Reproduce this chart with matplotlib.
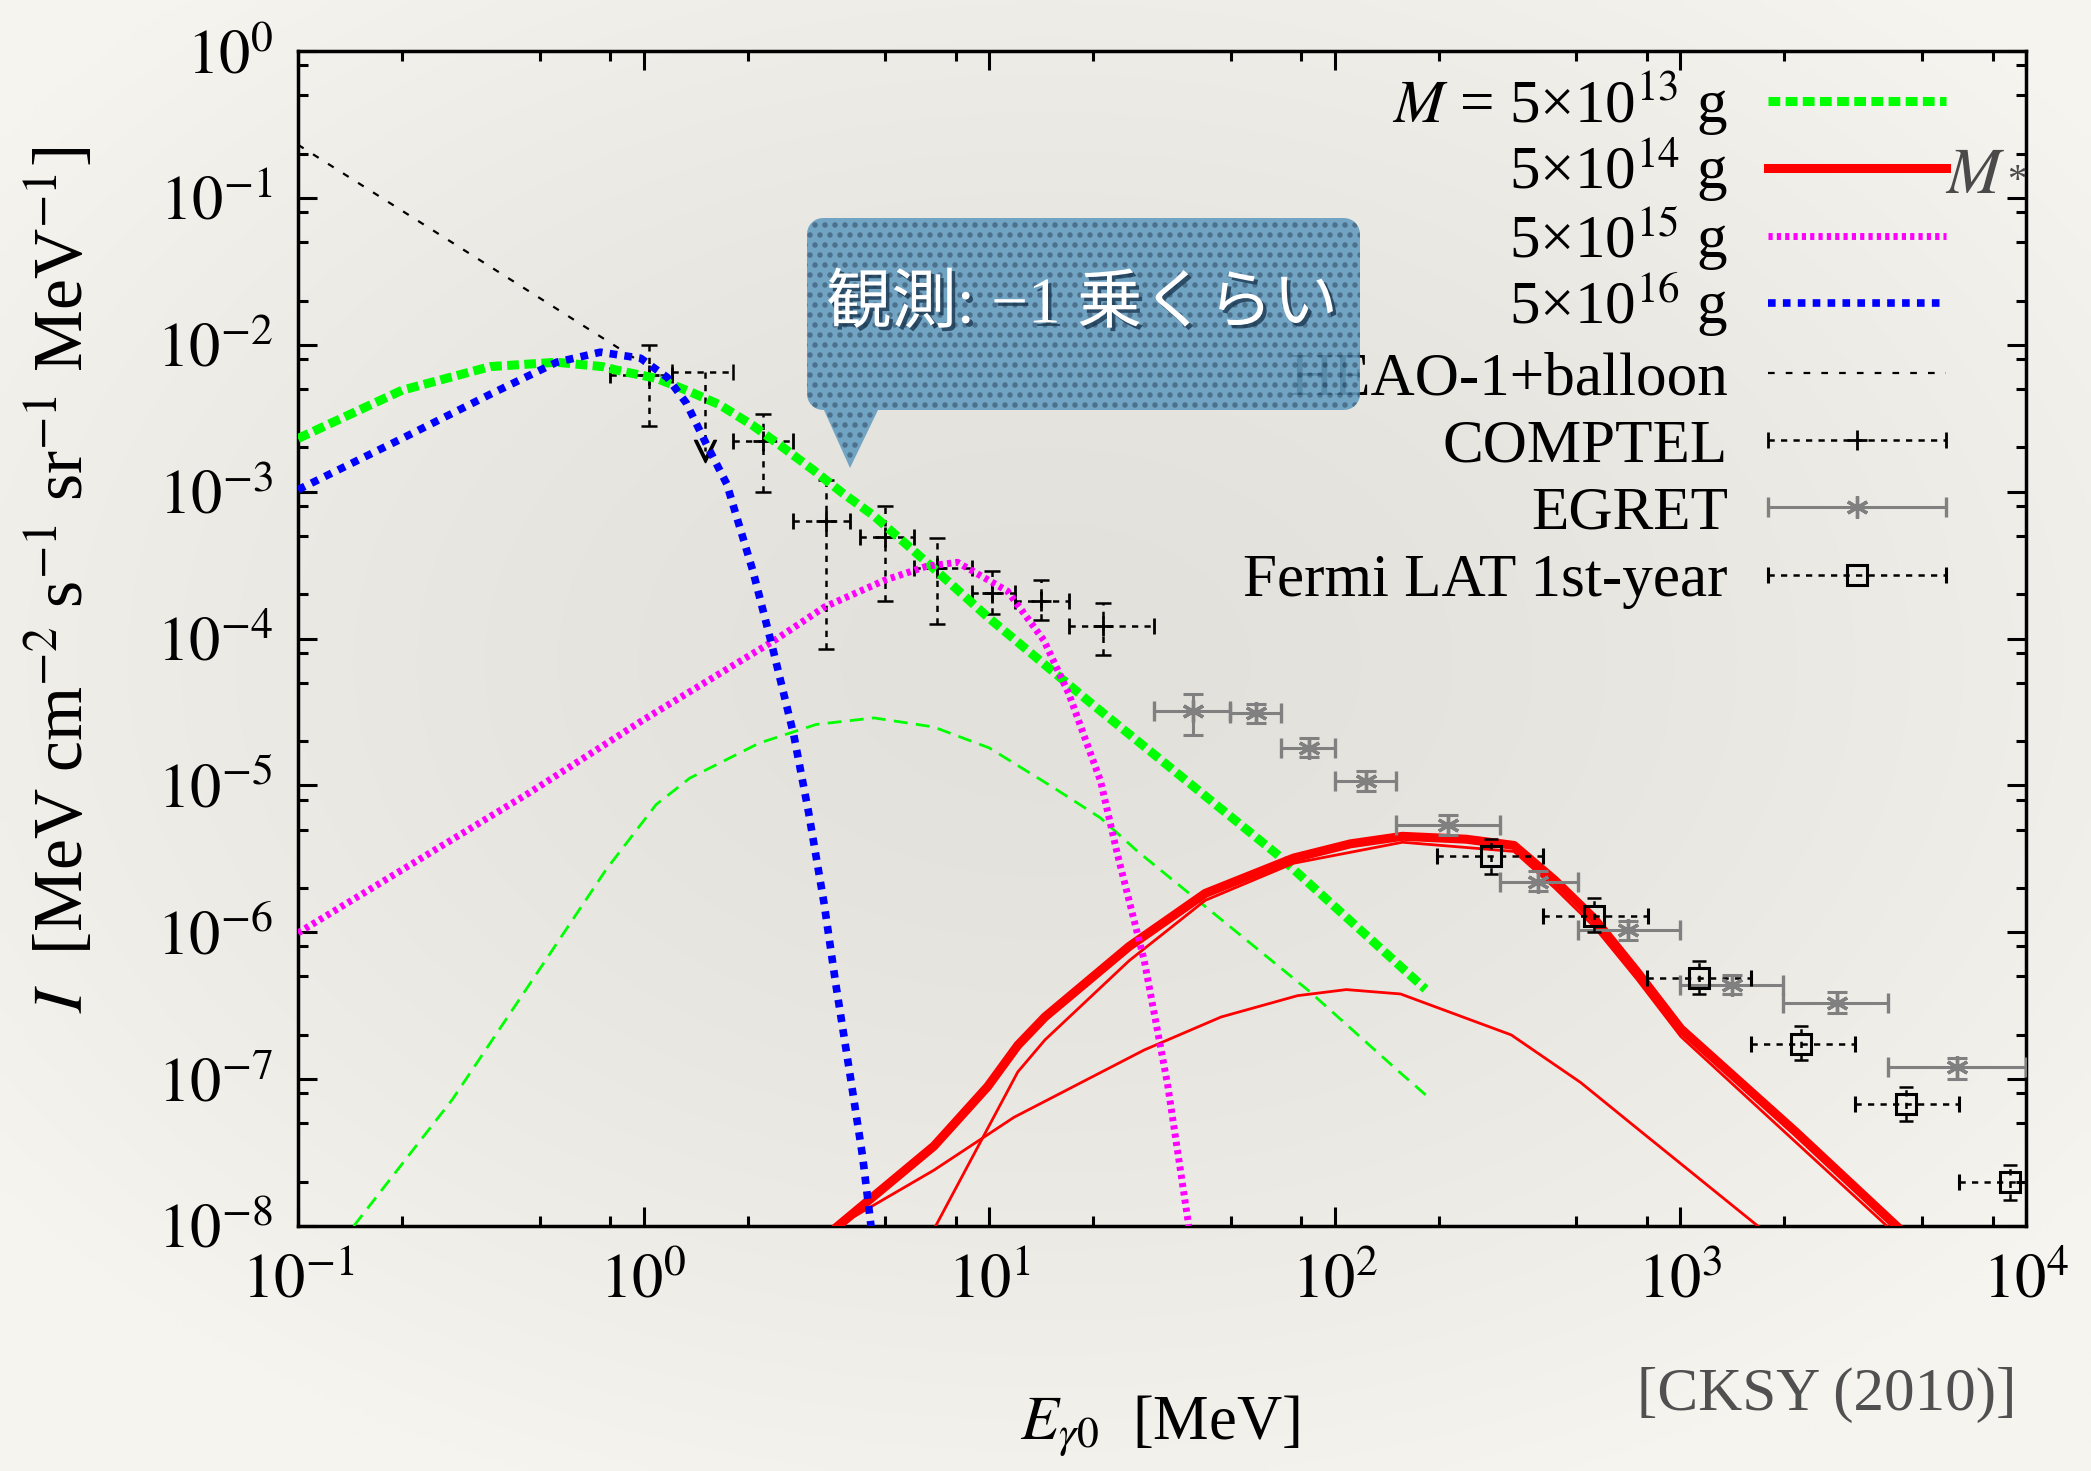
import numpy as np
import matplotlib

matplotlib.use("Agg")
import matplotlib.pyplot as plt
import matplotlib.patheffects as pe
from matplotlib.legend import Legend
from matplotlib.legend_handler import HandlerErrorbar
from matplotlib.patches import PathPatch
from matplotlib.path import Path
from matplotlib.ticker import FuncFormatter, LogLocator, NullFormatter

plt.rcParams["font.family"] = ["Liberation Serif", "Noto Sans CJK JP", "DejaVu Sans"]
plt.rcParams["mathtext.fontset"] = "stix"

# --- model spectra (E in MeV, I in MeV cm^-2 s^-1 sr^-1 MeV^-1) ---
m13_e = [0.1, 0.2, 0.36, 0.56, 0.76, 0.84, 1.09, 1.36, 1.66, 2.08, 2.48, 3.1, 3.78, 4.62, 6.8, 9.9, 19.5, 68, 183]
m13_i = [2.3e-3, 4.9e-3, 7.1e-3, 7.6e-3, 7.1e-3, 6.7e-3, 5.9e-3, 4.8e-3, 3.9e-3, 2.8e-3, 2.07e-3,
         1.4e-3, 9.7e-4, 6.9e-4, 3.1e-4, 1.4e-4, 3.7e-5, 3.4e-6, 4.1e-7]
m13s_e = [0.145, 0.28, 0.467, 0.778, 1.087, 1.36, 2.16, 3.16, 4.64, 6.9, 10, 15.3, 21, 26.7, 84, 155, 184.5]
m13s_i = [1e-8, 7.3e-8, 4.4e-7, 2.66e-6, 7.4e-6, 1.12e-5, 1.94e-5, 2.6e-5, 2.88e-5, 2.5e-5, 1.8e-5,
          9.7e-6, 6e-6, 3.6e-6, 4.0e-7, 1.1e-7, 7.7e-8]

m14_e = [3.65, 6.92, 9.9, 12.1, 14.5, 25.4, 42.2, 76, 111, 157, 240, 330, 433, 561, 748, 1003, 2150, 4220]
m14_i = [1e-8, 3.5e-8, 8.9e-8, 1.7e-7, 2.65e-7, 8e-7, 1.84e-6, 3.2e-6, 4.0e-6, 4.5e-6, 4.3e-6, 3.9e-6,
         2.26e-6, 1.25e-6, 5.4e-7, 2.2e-7, 4.4e-8, 1e-8]
m14b_e = [7.0, 12.1, 14.5, 25.4, 42.2, 76, 157, 330, 433, 561, 748, 1003, 3960]
m14b_i = [1e-8, 1.12e-7, 1.85e-7, 6.4e-7, 1.65e-6, 2.95e-6, 4.1e-6, 3.55e-6, 2.0e-6, 1.1e-6, 4.8e-7, 1.95e-7, 1e-8]
m14c_e = [3.65, 6.92, 11.8, 28.1, 46.9, 78, 108, 155, 324, 514, 751, 1675]
m14c_i = [1e-8, 2.4e-8, 5.5e-8, 1.58e-7, 2.65e-7, 3.7e-7, 4.07e-7, 3.8e-7, 2.0e-7, 9.5e-8, 4.6e-8, 1e-8]

m15_e = [0.1, 0.467, 1.0, 2.39, 3.34, 5.0, 6.58, 8.1, 11.3, 14.4, 17, 21, 23.5, 28.1, 32.8, 37.8]
m15_i = [9.9e-7, 8.9e-6, 2.8e-5, 9.7e-5, 1.64e-4, 2.5e-4, 3.1e-4, 3.3e-4, 2.1e-4, 9.7e-5, 4.2e-5,
         1.07e-5, 3.4e-6, 6.4e-7, 9.3e-8, 1e-8]

m16_e = [0.1, 0.2, 0.36, 0.56, 0.75, 0.98, 1.17, 1.33, 1.52, 1.74, 1.86, 2.07, 2.36, 2.72, 3.0, 3.33,
         3.6, 3.98, 4.3, 4.55]
m16_i = [1.03e-3, 2.3e-3, 4.6e-3, 7.6e-3, 8.9e-3, 8.1e-3, 6.0e-3, 4.0e-3, 2.1e-3, 1.13e-3, 6.7e-4,
         2.9e-4, 8.7e-5, 2.2e-5, 6.6e-6, 1.56e-6, 4.4e-7, 9.8e-8, 3e-8, 1e-8]

# --- observations ---
heao_e = [0.1, 1.0]
heao_i = [0.23, 7.4e-3]

comptel_e = [1.04, 2.21, 3.38, 5.0, 7.06, 10.2, 14.1, 21.3]
comptel_i = [6.2e-3, 2.2e-3, 6.3e-4, 4.9e-4, 3.0e-4, 2.05e-4, 1.8e-4, 1.22e-4]
comptel_elo = [0.80, 1.81, 2.71, 4.23, 6.05, 8.93, 11.9, 17.0]
comptel_ehi = [1.205, 2.71, 3.95, 6.05, 8.93, 11.9, 17.0, 29.9]
comptel_ilo = [2.8e-3, 1.0e-3, 8.5e-5, 1.8e-4, 1.26e-4, 1.47e-4, 1.33e-4, 7.7e-5]
comptel_ihi = [9.9e-3, 3.4e-3, 1.2e-3, 8.0e-4, 4.8e-4, 2.9e-4, 2.5e-4, 1.74e-4]

# COMPTEL upper limit
ul_e = [1.51]
ul_i = [6.5e-3]
ul_elo = [1.205]
ul_ehi = [1.815]
ul_tip = [1.9e-3]

egret_e = [39, 59, 84, 123, 213, 386, 706, 1410, 2830, 6300]
egret_i = [3.2e-5, 3.1e-5, 1.8e-5, 1.07e-5, 5.4e-6, 2.2e-6, 1.03e-6, 4.4e-7, 3.3e-7, 1.2e-7]
egret_elo = [30, 49.6, 70, 100, 150, 300, 505, 1000, 1980, 3980]
egret_ehi = [49.6, 70, 100, 150, 300, 505, 1000, 1980, 3980, 10000]
egret_ilo = [2.2e-5, 2.65e-5, 1.55e-5, 9.1e-6, 4.6e-6, 1.9e-6, 8.8e-7, 3.8e-7, 2.8e-7, 1.0e-7]
egret_ihi = [4.2e-5, 3.6e-5, 2.1e-5, 1.25e-5, 6.3e-6, 2.6e-6, 1.2e-6, 5.1e-7, 3.9e-7, 1.4e-7]

fermi_e = [283, 562, 1130, 2240, 4490, 9000]
fermi_i = [3.3e-6, 1.3e-6, 4.9e-7, 1.74e-7, 6.8e-8, 2.0e-8]
fermi_elo = [197, 400, 800, 1600, 3200, 6400]
fermi_ehi = [401, 807, 1600, 3200, 6400, 12800]
fermi_ilo = [2.5e-6, 1.0e-6, 3.8e-7, 1.35e-7, 5.2e-8, 1.5e-8]
fermi_ihi = [4.3e-6, 1.7e-6, 6.4e-7, 2.3e-7, 8.9e-8, 2.6e-8]

labels = [r"$M$ = 5×10$^{13}$ g", r"5×10$^{14}$ g", r"5×10$^{15}$ g", r"5×10$^{16}$ g",
          "HEAO-1+balloon", "COMPTEL", "EGRET", "Fermi LAT 1st-year"]


def xerr(e, lo, hi):
    e = np.asarray(e)
    return [e - np.asarray(lo), np.asarray(hi) - e]


def yerr(i, lo, hi):
    i = np.asarray(i)
    return [i - np.asarray(lo), np.asarray(hi) - i]


W, H = 2091, 1471
fig = plt.figure(figsize=(W / 100, H / 100), dpi=100)

# soft vignette backdrop
bg = fig.add_axes([0, 0, 1, 1], zorder=0)
yy, xx = np.mgrid[0:1:200j, 0:1:280j]
r = np.clip(np.hypot((xx - 0.5) / 0.62, (yy - 0.45) / 0.6), 0, 1) ** 1.6
centre = np.array([227, 225, 219]) / 255
edge = np.array([246, 244, 239]) / 255
bg.imshow(centre + (edge - centre) * r[..., None], extent=(0, 1, 0, 1), aspect="auto",
          interpolation="bilinear")
bg.axis("off")

ax_left, ax_top, ax_right, ax_bottom = 298, 51, 2026, 1226
ax = fig.add_axes([ax_left / W, 1 - ax_bottom / H, (ax_right - ax_left) / W,
                   (ax_bottom - ax_top) / H], zorder=1)
ax.set_facecolor("none")
ax.set_xscale("log")
ax.set_yscale("log")

# models
l13, = ax.plot(m13_e, m13_i, color="#00ff00", lw=6.5, dashes=(1.3, 0.6), zorder=4)
ax.plot(m13s_e, m13s_i, color="#00ff00", lw=2, dashes=(5, 3), zorder=4)
l14, = ax.plot(m14_e, m14_i, color="#ff0000", lw=6.5, zorder=4)
ax.plot(m14b_e, m14b_i, color="#ff0000", lw=2, zorder=4)
ax.plot(m14c_e, m14c_i, color="#ff0000", lw=2, zorder=4)
l15, = ax.plot(m15_e, m15_i, color="#ff00ff", lw=5, dashes=(0.6, 0.6), zorder=4)
l16, = ax.plot(m16_e, m16_i, color="#0000ff", lw=5.5, dashes=(1.0, 0.95), zorder=4)
lheao, = ax.plot(heao_e, heao_i, color="k", lw=1.6, dashes=(3, 5), zorder=3)

# COMPTEL
dash = (0, (2.5, 2.5))
comptel = ax.errorbar(comptel_e, comptel_i, xerr=xerr(comptel_e, comptel_elo, comptel_ehi),
                      fmt="+", color="k", ms=14, mew=2, elinewidth=1.8, capsize=6, capthick=1.8,
                      zorder=3)
comptel[2][0].set_linestyle(dash)
cv = ax.errorbar(comptel_e, comptel_i, yerr=yerr(comptel_i, comptel_ilo, comptel_ihi),
                 fmt="none", ecolor="k", elinewidth=1.8, capsize=6, capthick=1.8, zorder=3)
cv[2][0].set_linestyle(dash)
ul = ax.errorbar(ul_e, ul_i, xerr=xerr(ul_e, ul_elo, ul_ehi), fmt="none", ecolor="k",
                 elinewidth=1.8, capsize=6, capthick=1.8, zorder=3)
ul[2][0].set_linestyle(dash)
ax.plot([ul_e[0], ul_e[0]], [ul_i[0], ul_tip[0]], color="k", lw=1.8, linestyle=dash, zorder=3)
ax.plot(ul_e, ul_tip, marker=r"$\vee$", color="k", ms=16, linestyle="none", zorder=3)

# EGRET
grey = "#808080"
ax.errorbar(egret_e, egret_i, yerr=yerr(egret_i, egret_ilo, egret_ihi), fmt="none",
            ecolor=grey, elinewidth=2.2, capsize=7, capthick=2.2, zorder=5)
egret = ax.errorbar(egret_e, egret_i, xerr=xerr(egret_e, egret_elo, egret_ehi), fmt="",
                    marker=(6, 2, 0), linestyle="none", color=grey, ms=16, mew=2.4,
                    elinewidth=2.2, capsize=7, capthick=2.2, zorder=5)

# Fermi LAT
fermi = ax.errorbar(fermi_e, fermi_i, xerr=xerr(fermi_e, fermi_elo, fermi_ehi), fmt="s",
                    mfc="none", mec="k", ms=15, mew=2.2, ecolor="k", elinewidth=1.8,
                    capsize=6, capthick=1.8, zorder=5)
fermi[2][0].set_linestyle(dash)
fv = ax.errorbar(fermi_e, fermi_i, yerr=yerr(fermi_i, fermi_ilo, fermi_ihi), fmt="none",
                 ecolor="k", elinewidth=1.8, capsize=5, capthick=1.8, zorder=5)
fv[2][0].set_linestyle(dash)

ax.set_xlim(0.1, 1e4)
ax.set_ylim(1e-8, 1)

fmt = FuncFormatter(lambda v, _: r"$10^{%d}$" % round(np.log10(v)))
for axis in (ax.xaxis, ax.yaxis):
    axis.set_major_locator(LogLocator(base=10, numticks=20))
    axis.set_minor_locator(LogLocator(base=10, subs=(2, 5, 8), numticks=20))
    axis.set_major_formatter(fmt)
    axis.set_minor_formatter(NullFormatter())
ax.tick_params(which="both", direction="in", top=True, right=True, width=2.2, labelsize=45)
ax.tick_params(which="major", length=14)
ax.tick_params(which="minor", length=7)
ax.tick_params(axis="x", pad=20)
ax.tick_params(axis="y", pad=18)
for s in ax.spines.values():
    s.set_linewidth(2.5)

ax.set_xlabel(r"$E_{\gamma 0}$  [MeV]", fontsize=45)
ax.xaxis.set_label_coords(0.4988, -0.143)
ax.set_ylabel(r"$I$  [MeV cm$^{-2}$ s$^{-1}$ sr$^{-1}$ MeV$^{-1}$]", fontsize=50)
ax.yaxis.set_label_coords(-0.1157, 0.5498)

# key: one row per entry so that every baseline sits on an even pitch
err_handler = HandlerErrorbar(xerr_size=1.46)
key_right = (1946 - ax_left) / (ax_right - ax_left)
for k, (h, lab) in enumerate(zip([l13, l14, l15, l16, lheao, comptel, egret, fermi], labels)):
    row_bottom = 124 + 67.3 * k + 14
    leg = Legend(ax, [h], [lab], loc="lower right",
                 bbox_to_anchor=(key_right, 1 - (row_bottom - ax_top) / (ax_bottom - ax_top)),
                 frameon=False, markerfirst=False, fontsize=44, handlelength=2.92,
                 handletextpad=0.65, borderpad=0, borderaxespad=0,
                 handler_map={comptel: err_handler, egret: err_handler, fermi: err_handler})
    ax.add_artist(leg)

fig.text(2016 / W, 1 - 1367 / H, "[CKSY (2010)]", ha="right", va="top", fontsize=44,
         color="#505050")

# overlay in figure pixels: speech bubble and the M* tag
deco = fig.add_axes([0, 0, 1, 1], zorder=3)
deco.axis("off")
x0, x1, y0, y1, rad = 807, 1360, 218, 410, 16
tip_l, tip_r, tip_x, tip_y = 824, 878, 850, 468


def corner(cx, cy, a0, a1):
    t = np.radians(np.linspace(a0, a1, 8))
    return list(zip(cx + rad * np.cos(t), cy + rad * np.sin(t)))


pts = [(x0 + rad, y0), (x1 - rad, y0)]
pts += corner(x1 - rad, y0 + rad, -90, 0)
pts += corner(x1 - rad, y1 - rad, 0, 90)
pts += [(tip_r, y1), (tip_x, tip_y), (tip_l, y1)]
pts += corner(x0 + rad, y1 - rad, 90, 180)
pts += corner(x0 + rad, y0 + rad, 180, 270)
shape = PathPatch(Path(pts + [pts[0]], closed=True), facecolor="none", edgecolor="none",
                  transform=deco.transData)
deco.add_patch(shape)

ty, tx = np.mgrid[y0:tip_y, x0:x1] + 0.5
row = np.floor(ty / 10)
gx = (tx + 5 * (row % 2)) % 10 - 5
gy = ty % 10 - 5
dot = np.clip(3.2 - np.hypot(gx, gy), 0, 1)
base = np.array([100, 156, 192]) / 255
dark = np.array([58, 100, 132]) / 255
tex = np.dstack([base + (dark - base) * dot[..., None], np.full(dot.shape, 0.9)])
im = deco.imshow(tex, extent=(x0, x1, tip_y, y0), aspect="auto", interpolation="nearest")
im.set_clip_path(shape)
deco.set_xlim(0, W)
deco.set_ylim(H, 0)

deco.text(1082, 306, "観測: −1 乗くらい", ha="center", va="center", fontsize=47, color="white",
          path_effects=[pe.withSimplePatchShadow(offset=(2.5, -2.5), shadow_rgbFace="#17324a",
                                                 alpha=0.75)])

deco.text(1945, 193, r"$M$", ha="left", va="baseline", fontsize=47, color="#4a4a4a")
deco.text(2007, 181, "*", ha="left", va="center", fontsize=28, color="#4a4a4a")

fig.savefig("out.png", dpi=100)
